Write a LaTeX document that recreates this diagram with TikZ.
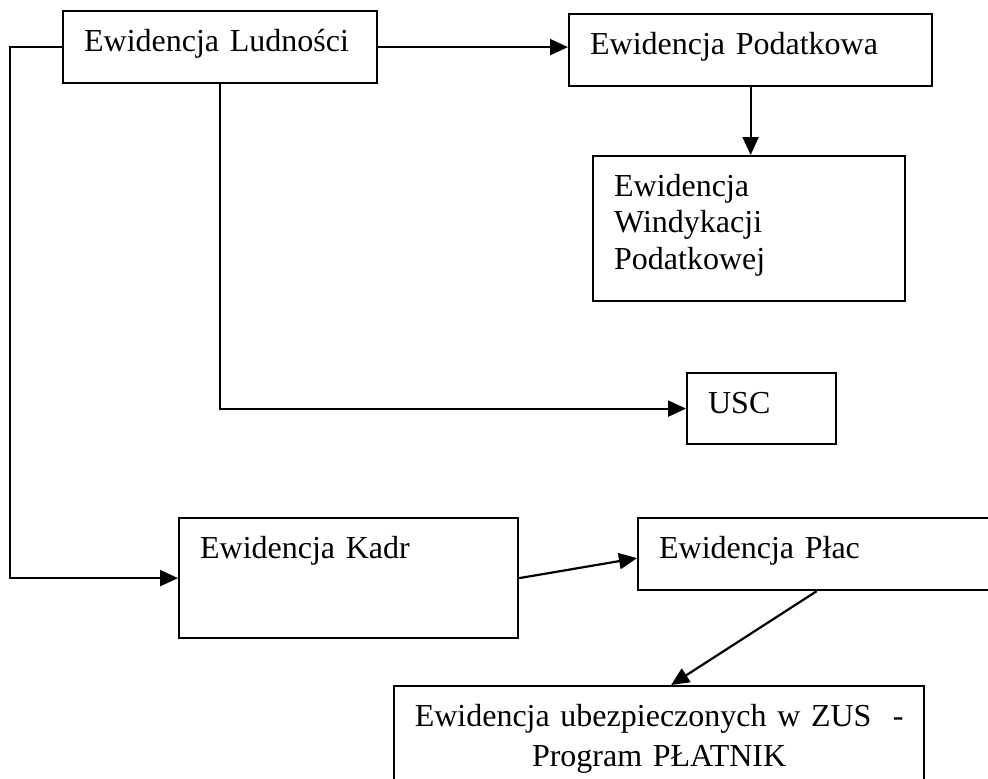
\documentclass[tikz,border=0pt]{standalone}
\usepackage{fontspec}
\setmainfont{Liberation Serif}
\usetikzlibrary{arrows.meta}
\tikzstyle{arr}=[-{Triangle[length=9pt,width=8pt]},line width=1.1pt]

\begin{document}
\begin{tikzpicture}[x=0.5pt,y=-0.5pt]
  \tikzstyle blok=[draw,line width=1.1pt,rectangle,anchor=north west,
    align=left,inner xsep=10.5pt,inner ysep=0pt,text height=20pt,
    font=\fontsize{16}{18.25}\selectfont];
  \useasboundingbox (0,0) rectangle (988,778);
  \clip (0,0) rectangle (988,778);

  % boxes
  \node[blok,text width=136pt,text depth=16pt] (ludnosc) at (62,10) {Ewidencja Ludności};
  \node[blok,text width=160.5pt,text depth=16pt] (podatki) at (568,13) {Ewidencja Podatkowa};
  \node[blok,text width=135pt,text depth=52.5pt] (windykacja) at (592,155)
    {Ewidencja\\Windykacji\\Podatkowej};
  \node[blok,text width=53.5pt,text depth=15.5pt] (usc) at (686,372) {USC};
  \node[blok,text width=148.5pt,text depth=40pt] (kadry) at (178,517) {Ewidencja Kadr};
  \node[blok,text width=165.5pt,text depth=16pt] (place) at (637,517) {Ewidencja Płac};
  \node[blok,align=center,inner xsep=3pt,text width=259pt,text depth=37.5pt,
    font=\fontsize{16}{20}\selectfont] (zus) at (393,685)
    {\mbox{Ewidencja ubezpieczonych w ZUS~~-}\\Program PŁATNIK};

  % arrows
  \draw[arr] (ludnosc.east) -- (ludnosc.east -| podatki.west);
  \draw[arr] (podatki.south) -- (podatki.south |- windykacja.north);
  \draw[arr] (ludnosc.south) |- (usc.west);
  \draw[arr] (ludnosc.west) -- ++(-52,0) |- (kadry.west);
  \draw[arr] (kadry.east) -- ([yshift=-2pt]place.west);
  \draw[arr] ([xshift=-4pt]place.south) -- ([xshift=6pt]zus.north);
\end{tikzpicture}
\end{document}
